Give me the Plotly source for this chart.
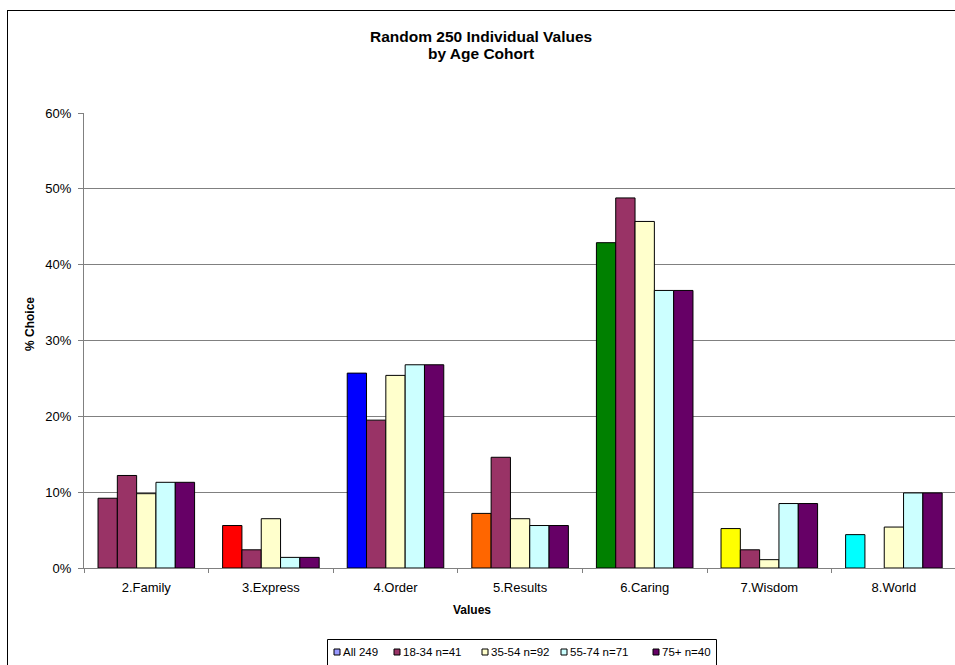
import plotly.graph_objects as go

# ---- data -------------------------------------------------------------
categories = ["2.Family", "3.Express", "4.Order", "5.Results", "6.Caring", "7.Wisdom", "8.World"]

series_names = ["All 249", "18-34 n=41", "35-54 n=92", "55-74 n=71", "75+ n=40"]

all_249 = [9.2, 5.6, 25.7, 7.2, 42.9, 5.2, 4.4]
age_18_34 = [12.2, 2.4, 19.5, 14.6, 48.8, 2.4, None]
age_35_54 = [9.8, 6.5, 25.4, 6.5, 45.7, 1.1, 5.4]
age_55_74 = [11.3, 1.4, 26.8, 5.6, 36.6, 8.5, 9.9]
age_75_plus = [11.3, 1.4, 26.8, 5.6, 36.6, 8.5, 9.9]

series_values = [all_249, age_18_34, age_35_54, age_55_74, age_75_plus]

# "All" bars are coloured per value category; the rest use one colour each
all_bar_colors = ["#993366", "#FF0000", "#0000FF", "#FF6600", "#008000", "#FFFF00", "#00FFFF"]
series_colors = ["#9999FF", "#993366", "#FFFFCC", "#CCFFFF", "#660066"]

y_ticks = [0, 10, 20, 30, 40, 50, 60]
y_tick_labels = ["0%", "10%", "20%", "30%", "40%", "50%", "60%"]

# ---- page geometry (pixels) --------------------------------------------
W_PAGE, H_PAGE = 955, 665
L, R, T, B = 84, 0, 113, 97
PW = W_PAGE - L - R
PH = H_PAGE - T - B
FONT = "Liberation Sans, Arial, sans-serif"


def px_x(p):
    return (p - L) / PW


def px_y(p):
    return (H_PAGE - B - p) / PH


fig = go.Figure()

for i, (name, vals) in enumerate(zip(series_names, series_values)):
    color = all_bar_colors if i == 0 else series_colors[i]
    fig.add_trace(go.Bar(
        x=categories,
        y=[v / 100 if v is not None else None for v in vals],
        name=name,
        marker=dict(color=color, line=dict(color="#000000", width=1)),
        showlegend=False,
        hovertemplate="%{x}<br>" + name + ": %{y:.1%}<extra></extra>",
    ))

shapes = []
annotations = []

# outer chart frame (left and top edges fall inside the page)
shapes.append(dict(type="line", xref="paper", yref="paper",
                   x0=px_x(7.5), x1=px_x(7.5), y0=px_y(10), y1=px_y(665),
                   line=dict(color="#000000", width=1), layer="above"))
shapes.append(dict(type="line", xref="paper", yref="paper",
                   x0=px_x(7.5), x1=px_x(955), y0=px_y(10.5), y1=px_y(10.5),
                   line=dict(color="#000000", width=1), layer="above"))

# legend box (its bottom runs past the page edge)
shapes.append(dict(type="path", xref="paper", yref="paper",
                   path="M {x0},{yb} L {x0},{yt} L {x1},{yt} L {x1},{yb}".format(
                       x0=px_x(327.5), x1=px_x(716.5), yt=px_y(639.5), yb=px_y(665)),
                   line=dict(color="#000000", width=1)))

legend_x = [334, 394, 482, 561, 653]
legend_y = 652
for name, color, lx in zip(series_names, series_colors, legend_x):
    shapes.append(dict(type="rect", xref="paper", yref="paper",
                       x0=px_x(lx), x1=px_x(lx + 6),
                       y0=px_y(legend_y + 3), y1=px_y(legend_y - 3),
                       line=dict(color="#000000", width=1), fillcolor=color))
    annotations.append(dict(xref="paper", yref="paper", x=px_x(lx + 7), y=px_y(legend_y),
                            xanchor="left", yanchor="middle", showarrow=False,
                            text=name, font=dict(family=FONT, size=11.5, color="#000000")))

# chart title
annotations.append(dict(xref="paper", yref="paper", x=px_x(481), y=px_y(36.5),
                        xanchor="center", yanchor="middle", showarrow=False,
                        text="<b>Random 250 Individual Values</b>",
                        font=dict(family=FONT, size=15.5, color="#000000")))
annotations.append(dict(xref="paper", yref="paper", x=px_x(481), y=px_y(53.5),
                        xanchor="center", yanchor="middle", showarrow=False,
                        text="<b>by Age Cohort</b>",
                        font=dict(family=FONT, size=15.5, color="#000000")))

# axis titles
annotations.append(dict(xref="paper", yref="paper", x=px_x(30), y=px_y(324),
                        xanchor="center", yanchor="middle", showarrow=False, textangle=-90,
                        text="<b>% Choice</b>",
                        font=dict(family=FONT, size=12, color="#000000")))
annotations.append(dict(xref="paper", yref="paper", x=px_x(472), y=px_y(610),
                        xanchor="center", yanchor="middle", showarrow=False,
                        text="<b>Values</b>",
                        font=dict(family=FONT, size=12, color="#000000")))

fig.update_layout(
    width=W_PAGE, height=H_PAGE,
    margin=dict(l=L, r=R, t=T, b=B, pad=0),
    paper_bgcolor="#FFFFFF", plot_bgcolor="#FFFFFF",
    barmode="group", bargap=0.225, bargroupgap=0,
    font=dict(family=FONT, size=13, color="#000000"),
    showlegend=False,
    shapes=shapes,
    annotations=annotations,
    xaxis=dict(
        type="category",
        range=[-0.5, -0.5 + PW / 124.6],
        showline=True, linecolor="#808080", linewidth=1,
        ticks="outside", tickson="boundaries", ticklen=4, tickcolor="#808080",
        showgrid=False, zeroline=False,
        tickfont=dict(family=FONT, size=13, color="#000000"),
        ticklabelstandoff=7,
        fixedrange=True,
    ),
    yaxis=dict(
        range=[0, 0.6],
        tickvals=[v / 100 for v in y_ticks], ticktext=y_tick_labels,
        showline=True, linecolor="#808080", linewidth=1,
        ticks="outside", ticklen=5, tickcolor="#808080",
        showgrid=True, gridcolor="#808080", gridwidth=1,
        zeroline=False,
        tickfont=dict(family=FONT, size=13, color="#000000"),
        ticklabelstandoff=4,
        fixedrange=True,
    ),
)

fig.write_html("out.html", config={"displayModeBar": False})
